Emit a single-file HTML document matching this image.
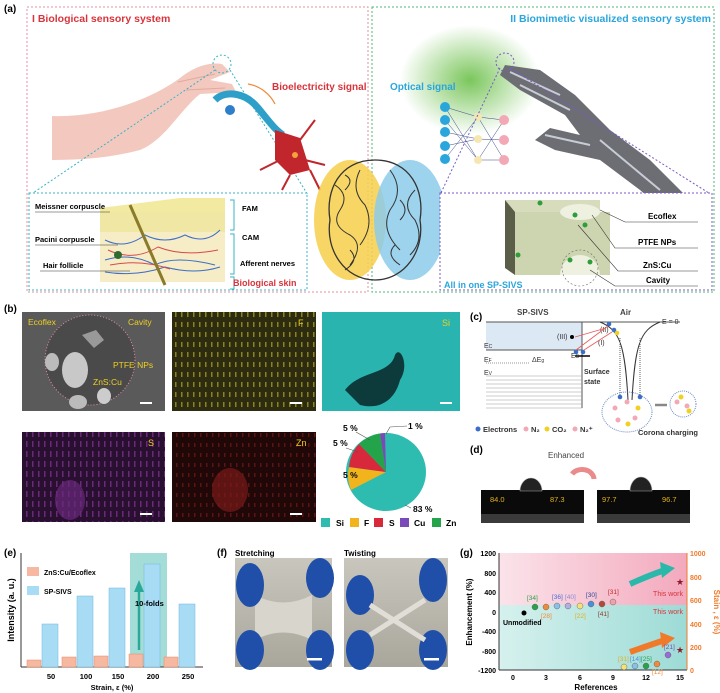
<!DOCTYPE html>
<html><head><meta charset="utf-8"><style>
html,body{margin:0;padding:0;background:#fff;}
svg{display:block;font-family:"Liberation Sans",Arial,sans-serif;}
</style></head><body>
<svg width="720" height="693" viewBox="0 0 720 693" xmlns="http://www.w3.org/2000/svg">
<defs>
<radialGradient id="glow" cx="0.5" cy="0.5" r="0.5"><stop offset="0" stop-color="#6cc04a" stop-opacity="0.9"/><stop offset="1" stop-color="#6cc04a" stop-opacity="0"/></radialGradient>
<linearGradient id="pink" x1="0" x2="1"><stop offset="0" stop-color="#fbe3ea"/><stop offset="1" stop-color="#f3a9bd"/></linearGradient>
<linearGradient id="teal" x1="0" x2="1"><stop offset="0" stop-color="#d6f1ee"/><stop offset="1" stop-color="#9ddbd6"/></linearGradient>
<linearGradient id="photo" x1="0" y1="0" x2="0" y2="1"><stop offset="0" stop-color="#c9c6bd"/><stop offset="1" stop-color="#a9a69c"/></linearGradient>
<pattern id="pf" width="6" height="10" patternUnits="userSpaceOnUse"><rect width="6" height="10" fill="#2d2c10"/><rect x="1" y="2" width="1.5" height="5" fill="#8a8420"/></pattern>
<pattern id="ps" width="6" height="10" patternUnits="userSpaceOnUse"><rect width="6" height="10" fill="#2a1030"/><rect x="2" y="1" width="1.5" height="6" fill="#6a2a7a"/></pattern>
<pattern id="pz" width="6" height="10" patternUnits="userSpaceOnUse"><rect width="6" height="10" fill="#200808"/><rect x="2" y="3" width="1.5" height="4" fill="#5a1414"/></pattern>
</defs>

<!-- (a) -->
<text x="4" y="12" font-size="10" font-weight="bold">(a)</text>
<rect x="27" y="7" width="341" height="285" fill="none" stroke="#e58fa0" stroke-dasharray="2,2"/>
<rect x="372" y="7" width="342" height="285" fill="none" stroke="#4cb87a" stroke-dasharray="2,2"/>
<text x="32" y="22" font-size="10.5" font-weight="bold" fill="#d8343c">I Biological sensory system</text>
<text x="711" y="22" font-size="10.5" font-weight="bold" fill="#2aa6dc" text-anchor="end">II Biomimetic visualized sensory system</text>
<!-- hand -->
<path d="M52,116 C100,118 150,100 180,78 C195,66 210,62 222,64 L230,72 L210,80 L232,84 L236,92 L200,94 C180,110 165,140 140,150 C110,158 80,160 52,160 Z" fill="#f3c9bf"/>
<path d="M178,82 L215,74 M186,90 L225,88" stroke="#e3a99c" stroke-width="1" fill="none"/>
<circle cx="222" cy="64" r="9" fill="none" stroke="#39b3c5" stroke-dasharray="2,2"/>
<line x1="215" y1="70" x2="30" y2="195" stroke="#39b3c5" stroke-dasharray="2,2"/>
<line x1="230" y1="70" x2="308" y2="195" stroke="#39b3c5" stroke-dasharray="2,2"/>
<!-- neuron -->
<path d="M215,100 C225,90 245,92 258,108 C268,120 275,130 283,135" stroke="#2e9fc9" stroke-width="7" fill="none"/>
<circle cx="230" cy="110" r="5" fill="#2e7fc9"/>
<path d="M275,130 L300,138 L310,170 L290,175 L275,160 Z" fill="#c0262c"/>
<path d="M300,140 l15,-20 M305,160 l20,5 M290,175 l-8,15 M280,160 l-20,10 M310,170 l10,20" stroke="#c0262c" stroke-width="2"/>
<circle cx="295" cy="155" r="3" fill="#f4a23a"/>
<path d="M248,84 C260,86 270,94 275,104" stroke="#f08a3a" fill="none" stroke-width="1.2"/>
<text x="272" y="90" font-size="10" font-weight="bold" fill="#d8343c">Bioelectricity signal</text>
<!-- brain -->
<ellipse cx="350" cy="220" rx="36" ry="60" fill="#f6cf4a" opacity="0.85"/>
<ellipse cx="410" cy="220" rx="36" ry="60" fill="#8ccbea" opacity="0.85"/>
<path d="M375,160 C340,160 325,190 330,220 C325,250 345,280 375,280 M375,160 C410,160 425,190 420,220 C425,250 405,280 375,280" stroke="#333" fill="none" stroke-width="1.3"/>
<path d="M335,185 q15,10 5,25 q-10,15 10,25 q15,10 0,30 M360,170 q-10,20 5,35 q10,20 -5,40 M390,170 q15,20 0,40 q-10,20 10,40 M415,190 q-15,15 0,30 q10,20 -5,35 M345,175 q10,5 0,15 M400,200 q10,10 0,20 M350,250 q10,10 -5,20 M395,245 q-10,10 5,20" stroke="#333" fill="none" stroke-width="1"/>
<!-- skin inset -->
<rect x="29" y="193" width="278" height="97" fill="#fff" stroke="#39b3c5" stroke-dasharray="2,2"/>
<polygon points="100,208 180,198 225,198 225,230 100,230" fill="#f2eaa0"/>
<rect x="100" y="212" width="125" height="70" fill="#f6ecc6"/>
<rect x="100" y="212" width="125" height="20" fill="#eee69a" opacity="0.8"/>
<path d="M105,240 q20,10 40,-5 q20,10 40,0 q20,10 35,-5 M105,260 q25,-8 50,5 q20,-10 60,0 M105,272 q30,5 60,-5 q30,8 55,0" stroke="#3b6ec8" fill="none"/>
<path d="M108,250 q25,12 50,-3 q25,10 60,3 M110,265 q30,-6 60,4" stroke="#d84b4b" fill="none"/>
<line x1="130" y1="205" x2="165" y2="285" stroke="#8a7a2a" stroke-width="3"/>
<circle cx="118" cy="255" r="4" fill="#2e6b2e"/>
<text x="35" y="209" font-size="7.5" font-weight="bold">Meissner corpuscle</text>
<text x="35" y="242" font-size="7.5" font-weight="bold">Pacini corpuscle</text>
<text x="43" y="268" font-size="7.5" font-weight="bold">Hair follicle</text>
<line x1="35" y1="212" x2="110" y2="212" stroke="#333" stroke-width="0.6"/>
<line x1="35" y1="245" x2="118" y2="245" stroke="#333" stroke-width="0.6"/>
<line x1="40" y1="271" x2="130" y2="271" stroke="#333" stroke-width="0.6"/>
<path d="M230,200 h4 v30 h-4 M230,234 h4 v40 h-4 M230,277 h4 v12 h-4" stroke="#39b3c5" fill="none"/>
<text x="242" y="211" font-size="7.5" font-weight="bold">FAM</text>
<text x="242" y="240" font-size="7.5" font-weight="bold">CAM</text>
<text x="240" y="266" font-size="7.5" font-weight="bold">Afferent nerves</text>
<text x="233" y="286" font-size="9" font-weight="bold" fill="#d8343c">Biological skin</text>
<!-- right side -->
<ellipse cx="470" cy="80" rx="70" ry="55" fill="url(#glow)"/>
<text x="390" y="90" font-size="10" font-weight="bold" fill="#2aa6dc">Optical signal</text>
<g stroke="#3a4a8a" stroke-width="0.5">
<line x1="445" y1="107" x2="478" y2="117"/><line x1="445" y1="107" x2="478" y2="160"/><line x1="445" y1="159" x2="478" y2="117"/><line x1="445" y1="132" x2="478" y2="139"/><line x1="445" y1="120" x2="478" y2="160"/><line x1="445" y1="146" x2="478" y2="139"/>
<line x1="478" y1="117" x2="504" y2="120"/><line x1="478" y1="160" x2="504" y2="120"/><line x1="478" y1="117" x2="504" y2="160"/><line x1="478" y1="139" x2="504" y2="140"/><line x1="478" y1="160" x2="504" y2="160"/>
</g>
<g fill="#2aa6dc"><circle cx="445" cy="107" r="5"/><circle cx="445" cy="120" r="5"/><circle cx="445" cy="132" r="5"/><circle cx="445" cy="146" r="5"/><circle cx="445" cy="159" r="5"/></g>
<g fill="#f6e6b2"><circle cx="478" cy="117" r="4"/><circle cx="478" cy="139" r="4"/><circle cx="478" cy="160" r="4"/></g>
<g fill="#f3a9b5"><circle cx="504" cy="120" r="5"/><circle cx="504" cy="140" r="5"/><circle cx="504" cy="160" r="5"/></g>
<!-- robot hand -->
<path d="M505,65 L540,70 L575,95 L610,130 L650,160 L690,200 L700,215 L680,225 L640,190 L600,160 L555,150 L535,140 L550,128 L580,135 L565,115 L520,90 L500,75 Z" fill="#6c6e74"/>
<path d="M510,72 L560,95 M520,85 L570,110 M545,135 L590,145 M600,140 L660,190" stroke="#c8ccd4" stroke-width="2"/>
<circle cx="505" cy="62" r="9" fill="none" stroke="#7a5ac8" stroke-dasharray="2,2"/>
<line x1="500" y1="68" x2="440" y2="195" stroke="#7a5ac8" stroke-dasharray="2,2"/>
<line x1="510" y1="68" x2="712" y2="195" stroke="#7a5ac8" stroke-dasharray="2,2"/>
<rect x="440" y="193" width="272" height="97" fill="#fff" stroke="#7a5ac8" stroke-dasharray="2,2"/>
<polygon points="505,200 600,200 600,268 505,268" fill="#d6dcbc"/>
<polygon points="505,200 515,212 515,275 505,268" fill="#5a5e48"/>
<polygon points="515,212 610,212 610,275 515,275" fill="#cdd4b0"/>
<path d="M560,275 a20,20 0 0 1 40,0 Z" fill="#eef0e0"/>
<ellipse cx="580" cy="212" rx="20" ry="8" fill="#eef0e0"/>
<g fill="#2e9e3a"><circle cx="575" cy="215" r="2.5"/><circle cx="585" cy="225" r="2.5"/><circle cx="570" cy="260" r="2.5"/><circle cx="590" cy="262" r="2.5"/><circle cx="518" cy="255" r="2.5"/><circle cx="540" cy="203" r="2.5"/></g>
<circle cx="580" cy="268" r="18" fill="none" stroke="#666" stroke-dasharray="2,2" stroke-width="0.6"/>
<text x="648" y="219" font-size="8" font-weight="bold">Ecoflex</text>
<text x="638" y="245" font-size="8" font-weight="bold">PTFE NPs</text>
<text x="643" y="268" font-size="8" font-weight="bold">ZnS:Cu</text>
<text x="646" y="283" font-size="8" font-weight="bold">Cavity</text>
<g stroke="#333" stroke-width="0.6" fill="none"><path d="M600,210 L625,222 H698"/><path d="M592,215 L615,248 H698"/><path d="M578,225 L618,271 H698"/><path d="M590,270 L615,286 H698"/></g>
<text x="444" y="288" font-size="9" font-weight="bold" fill="#2aa6dc">All in one SP-SIVS</text>

<!-- (b) -->
<text x="4" y="312" font-size="10" font-weight="bold">(b)</text>
<rect x="22" y="312" width="143" height="99" fill="#5a5a5a"/>
<circle cx="90" cy="360" r="45" fill="#4a4a4a" stroke="#e58fa0" stroke-dasharray="1,2"/>
<ellipse cx="75" cy="370" rx="13" ry="18" fill="#c8c8c8"/><ellipse cx="52" cy="362" rx="7" ry="9" fill="#bbb"/><ellipse cx="78" cy="402" rx="9" ry="7" fill="#bbb"/><ellipse cx="104" cy="396" rx="7" ry="8" fill="#ccc"/><path d="M82,335 l14,-5 l8,10 l-10,8 Z" fill="#999"/>
<text x="28" y="325" font-size="8.5" fill="#f0d020">Ecoflex</text>
<text x="128" y="325" font-size="8.5" fill="#f0d020">Cavity</text>
<text x="113" y="368" font-size="8.5" fill="#f0d020">PTFE NPs</text>
<text x="93" y="385" font-size="8.5" fill="#f0d020">ZnS:Cu</text>
<rect x="140" y="402" width="12" height="2" fill="#fff"/>
<rect x="172" y="312" width="144" height="99" fill="url(#pf)"/>
<text x="298" y="326" font-size="9" fill="#f0d020">F</text><rect x="290" y="402" width="12" height="2" fill="#fff"/>
<rect x="322" y="312" width="138" height="99" fill="#2ab4b0"/>
<path d="M345,390 C360,370 390,375 395,355 C400,345 410,365 400,380 C395,400 380,410 360,405 Z" fill="#0d3a3a"/>
<text x="442" y="326" font-size="9" fill="#f0d020">Si</text><rect x="440" y="402" width="12" height="2" fill="#fff"/>
<rect x="22" y="432" width="143" height="90" fill="url(#ps)"/>
<ellipse cx="70" cy="500" rx="15" ry="20" fill="#6a2a7a" opacity="0.7"/>
<text x="148" y="446" font-size="9" fill="#f0d020">S</text><rect x="140" y="513" width="12" height="2" fill="#fff"/>
<rect x="172" y="432" width="144" height="90" fill="url(#pz)"/>
<ellipse cx="230" cy="490" rx="18" ry="22" fill="#7a1a1a" opacity="0.7"/>
<text x="296" y="446" font-size="9" fill="#f0d020">Zn</text><rect x="290" y="513" width="12" height="2" fill="#fff"/>
<!-- pie -->
<g transform="translate(386,472)">
<ellipse rx="40" ry="39" fill="#2fbcb0"/>
<path d="M0,0 L-35,18 A40,39 0 0 1 -37,-5 Z" fill="#f2b41c"/>
<path d="M0,0 L-37,-5 A40,39 0 0 1 -27,-28 Z" fill="#d8283c"/>
<path d="M0,0 L-27,-28 A40,39 0 0 1 -6,-38.5 Z" fill="#24a44a"/>
<path d="M0,0 L-6,-38.5 A40,39 0 0 1 -1,-39 Z" fill="#7a4ab8"/>
</g>
<g font-size="8.5" font-weight="bold"><text x="343" y="431">5 %</text><text x="333" y="446">5 %</text><text x="343" y="478">5 %</text><text x="408" y="429">1 %</text><text x="413" y="512">83 %</text></g>
<g stroke="#555" stroke-width="0.6" fill="none"><path d="M356,432 L370,440"/><path d="M346,448 L358,452"/><path d="M356,478 L352,472"/><path d="M407,426 L390,427 L386,434"/><path d="M411,508 L405,505"/></g>
<g font-size="8.5" font-weight="bold">
<rect x="321" y="518" width="9" height="9" fill="#2fbcb0"/><text x="336" y="526">Si</text>
<rect x="350" y="518" width="9" height="9" fill="#f2b41c"/><text x="364" y="526">F</text>
<rect x="374" y="518" width="9" height="9" fill="#d8283c"/><text x="389" y="526">S</text>
<rect x="400" y="518" width="9" height="9" fill="#7a4ab8"/><text x="414" y="526">Cu</text>
<rect x="432" y="518" width="9" height="9" fill="#24a44a"/><text x="446" y="526">Zn</text>
</g>

<!-- (c) -->
<text x="470" y="320" font-size="10" font-weight="bold">(c)</text>
<text x="517" y="315" font-size="8" font-weight="bold" fill="#444">SP-SIVS</text>
<text x="620" y="315" font-size="8" font-weight="bold" fill="#444">Air</text>
<rect x="486" y="322" width="96" height="28" fill="#dce8f4"/>
<line x1="486" y1="322" x2="680" y2="322" stroke="#555"/>
<line x1="582" y1="322" x2="582" y2="408" stroke="#555"/>
<line x1="486" y1="350" x2="582" y2="350" stroke="#555"/>
<g stroke="#999" stroke-width="0.6"><line x1="486" y1="376" x2="582" y2="376"/><line x1="486" y1="380" x2="582" y2="380"/><line x1="486" y1="384" x2="582" y2="384"/><line x1="486" y1="388" x2="582" y2="388"/><line x1="486" y1="392" x2="582" y2="392"/><line x1="486" y1="396" x2="582" y2="396"/><line x1="486" y1="400" x2="582" y2="400"/><line x1="486" y1="404" x2="582" y2="404"/><line x1="486" y1="408" x2="582" y2="408"/></g>
<line x1="486" y1="363" x2="530" y2="363" stroke="#999" stroke-dasharray="1,1"/>
<g font-size="7" fill="#333"><text x="484" y="348">E<tspan font-size="5">C</tspan></text><text x="484" y="362">E<tspan font-size="5">F</tspan></text><text x="484" y="375">E<tspan font-size="5">V</tspan></text><text x="532" y="362">ΔE<tspan font-size="5">g</tspan></text><text x="571" y="358">E<tspan font-size="5">S</tspan></text><text x="662" y="324">E = 0</text><text x="557" y="339">(III)</text><text x="600" y="332">(II)</text><text x="598" y="345">(I)</text><text x="584" y="374" font-weight="bold">Surface</text><text x="584" y="384" font-weight="bold">state</text></g>
<path d="M600,322 C620,330 625,345 628,400 M660,322 C640,330 635,345 632,400" stroke="#333" fill="none"/>
<line x1="575" y1="356" x2="590" y2="356" stroke="#000" stroke-width="1.5"/>
<circle cx="572" cy="337" r="2" fill="#000"/>
<g fill="#3a6ec8"><circle cx="576" cy="352" r="2.3"/><circle cx="583" cy="352" r="2.3"/><circle cx="609" cy="324" r="2.3"/><circle cx="614" cy="330" r="2.3"/></g>
<circle cx="617" cy="333" r="2.3" fill="#f0d020"/>
<path d="M576,350 L608,326 M584,350 L612,332 M575,337 L606,328" stroke="#e85a5a" stroke-width="0.8"/>
<line x1="620" y1="338" x2="620" y2="395" stroke="#666" stroke-dasharray="1,1"/>
<line x1="640" y1="338" x2="640" y2="395" stroke="#666" stroke-dasharray="1,1"/>
<ellipse cx="627" cy="412" rx="25" ry="20" fill="none" stroke="#6a8ac8" stroke-dasharray="1,1"/>
<circle cx="683" cy="404" r="13" fill="none" stroke="#6a8ac8" stroke-dasharray="1,1"/>
<g fill="#f3a9b5"><circle cx="615" cy="408" r="2.5"/><circle cx="627" cy="402" r="2.5"/><circle cx="618" cy="420" r="2.5"/><circle cx="635" cy="418" r="2.5"/><circle cx="677" cy="402" r="2.5"/><circle cx="687" cy="406" r="2.5"/></g>
<g fill="#f0d020"><circle cx="638" cy="408" r="2.5"/><circle cx="628" cy="424" r="2.5"/><circle cx="681" cy="397" r="2.5"/><circle cx="689" cy="411" r="2.5"/></g>
<g fill="#3a6ec8"><circle cx="620" cy="397" r="2.3"/><circle cx="640" cy="397" r="2.3"/></g>
<path d="M667,405 H655" stroke="#888" stroke-width="2.5"/>
<g font-size="7.5" font-weight="bold" fill="#333">
<circle cx="478" cy="429" r="2.5" fill="#3a6ec8"/><text x="483" y="432">Electrons</text>
<circle cx="526" cy="429" r="2.5" fill="#f3a9b5"/><text x="531" y="432">N₂</text>
<circle cx="547" cy="429" r="2.5" fill="#f0d020"/><text x="552" y="432">CO₂</text>
<circle cx="575" cy="429" r="2.5" fill="#f3a9b5"/><text x="580" y="432">N₂⁺</text>
<text x="638" y="435">Corona charging</text>
</g>
<!-- (d) -->
<text x="470" y="453" font-size="10" font-weight="bold">(d)</text>
<text x="566" y="458" font-size="8" fill="#444" text-anchor="middle">Enhanced</text>
<path d="M572,474 a12,10 0 0 1 22,5" stroke="#ea8a8a" stroke-width="5" fill="none"/>
<rect x="481" y="490" width="103" height="33" fill="#0a0a0a"/><rect x="481" y="514" width="103" height="9" fill="#3a3a3a"/>
<path d="M520,491 a11,13 0 0 1 22,0 Z" fill="#222" stroke="#aaa" stroke-width="0.6"/>
<text x="490" y="502" font-size="7.5" fill="#e0b020">84.0</text><text x="550" y="502" font-size="7.5" fill="#e0b020">87.3</text>
<rect x="597" y="490" width="93" height="33" fill="#0a0a0a"/><rect x="597" y="514" width="93" height="9" fill="#3a3a3a"/>
<path d="M630,491 a11,14 0 0 1 22,0 Z" fill="#222" stroke="#aaa" stroke-width="0.6"/>
<text x="602" y="502" font-size="7.5" fill="#e0b020">97.7</text><text x="662" y="502" font-size="7.5" fill="#e0b020">96.7</text>

<!-- (e) -->
<text x="4" y="556" font-size="10" font-weight="bold">(e)</text>
<rect x="130" y="553" width="37" height="114" fill="#a4ddd8"/>
<g stroke="#333" fill="none"><line x1="21" y1="553" x2="21" y2="667"/><line x1="21" y1="667" x2="203" y2="667"/></g>
<text x="14" y="610" font-size="9" font-weight="bold" transform="rotate(-90 14 610)" text-anchor="middle">Intensity   (a. u.)</text>
<g fill="#a8dcf4" stroke="#6cb8e0" stroke-width="0.5">
<rect x="42" y="624" width="16" height="43"/><rect x="77" y="596" width="16" height="71"/><rect x="109" y="588" width="16" height="79"/><rect x="144" y="564" width="16" height="103"/><rect x="179" y="604" width="16" height="63"/></g>
<g fill="#f6b8a0" stroke="#e88a68" stroke-width="0.5">
<rect x="27" y="660" width="14" height="7"/><rect x="62" y="657" width="14" height="10"/><rect x="94" y="656" width="14" height="11"/><rect x="129" y="654" width="14" height="13"/><rect x="164" y="657" width="14" height="10"/></g>
<path d="M139,650 L139,590" stroke="#2aa89a" stroke-width="2.5"/><polygon points="134,592 139,580 144,592" fill="#2aa89a"/>
<text x="135" y="606" font-size="7.5" font-weight="bold">10-folds</text>
<rect x="27" y="567" width="12" height="9" fill="#f6b8a0"/><text x="44" y="575" font-size="7" font-weight="bold">ZnS:Cu/Ecoflex</text>
<rect x="27" y="586" width="12" height="9" fill="#a8dcf4"/><text x="44" y="594" font-size="7" font-weight="bold">SP-SIVS</text>
<g font-size="7.5" font-weight="bold" text-anchor="middle"><text x="51" y="679">50</text><text x="86" y="679">100</text><text x="118" y="679">150</text><text x="153" y="679">200</text><text x="188" y="679">250</text><text x="112" y="690">Strain, ε (%)</text></g>

<!-- (f) -->
<text x="217" y="556" font-size="10" font-weight="bold">(f)</text>
<text x="235" y="556" font-size="8" font-weight="bold">Stretching</text>
<text x="344" y="556" font-size="8" font-weight="bold">Twisting</text>
<rect x="235" y="558" width="97" height="109" fill="url(#photo)"/>
<rect x="344" y="558" width="104" height="109" fill="url(#photo)"/>
<path d="M255,595 Q283,610 312,595 L312,640 Q283,625 255,640 Z" fill="#d8d6cc"/>
<g fill="#1f4fa8"><ellipse cx="250" cy="585" rx="14" ry="22"/><ellipse cx="320" cy="578" rx="14" ry="20"/><ellipse cx="250" cy="650" rx="14" ry="20"/><ellipse cx="320" cy="650" rx="14" ry="20"/>
<ellipse cx="360" cy="595" rx="14" ry="20"/><ellipse cx="433" cy="580" rx="14" ry="22"/><ellipse cx="360" cy="650" rx="14" ry="20"/><ellipse cx="433" cy="650" rx="14" ry="20"/></g>
<path d="M370,605 L425,640 M370,635 L425,600" stroke="#e0ded6" stroke-width="5"/>
<rect x="307" y="658" width="15" height="2.5" fill="#fff"/><rect x="424" y="658" width="15" height="2.5" fill="#fff"/>

<!-- (g) -->
<text x="460" y="556" font-size="10" font-weight="bold">(g)</text>
<rect x="499" y="553" width="188" height="52" fill="url(#pink)"/>
<rect x="499" y="605" width="188" height="65" fill="url(#teal)"/>
<g stroke="#333" fill="none"><line x1="499" y1="553" x2="499" y2="670"/><line x1="499" y1="670" x2="687" y2="670"/></g>
<line x1="687" y1="553" x2="687" y2="670" stroke="#f07a2a"/>
<g font-size="7" font-weight="bold" text-anchor="end"><text x="496" y="556">1200</text><text x="496" y="576">800</text><text x="496" y="595">400</text><text x="496" y="615">0</text><text x="496" y="634">-400</text><text x="496" y="654">-800</text><text x="496" y="673">-1200</text></g>
<g font-size="7" font-weight="bold" fill="#f07a2a"><text x="690" y="556">1000</text><text x="690" y="580">800</text><text x="690" y="603">600</text><text x="690" y="627">400</text><text x="690" y="650">200</text><text x="690" y="673">0</text></g>
<g font-size="7" font-weight="bold" text-anchor="middle"><text x="513" y="680">0</text><text x="546" y="680">3</text><text x="580" y="680">6</text><text x="613" y="680">9</text><text x="646" y="680">12</text><text x="680" y="680">15</text><text x="596" y="690" font-size="8">References</text></g>
<text x="472" y="612" font-size="8" font-weight="bold" transform="rotate(-90 472 612)" text-anchor="middle">Enhancement (%)</text>
<text x="714" y="612" font-size="8" font-weight="bold" fill="#f07a2a" transform="rotate(90 714 612)" text-anchor="middle">Stain , ε (%)</text>
<path d="M630,584 Q650,575 665,570" stroke="#2ab8aa" stroke-width="6" fill="none"/><polygon points="660,562 675,568 662,578" fill="#2ab8aa"/>
<path d="M630,652 Q650,645 665,640" stroke="#f07a2a" stroke-width="6" fill="none"/><polygon points="660,632 675,638 662,648" fill="#f07a2a"/>
<text x="683" y="596" font-size="7" fill="#d8343c" text-anchor="end">This work</text>
<text x="683" y="614" font-size="7" fill="#d8343c" text-anchor="end">This work</text>
<text x="680" y="585" font-size="9" fill="#8a1a2a" text-anchor="middle">★</text>
<text x="680" y="653" font-size="9" fill="#8a1a2a" text-anchor="middle">★</text>
<circle cx="524" cy="613" r="2.5" fill="#000"/>
<text x="503" y="625" font-size="7" font-weight="bold">Unmodified</text>
<g stroke="#555" stroke-width="0.4">
<circle cx="535" cy="607" r="3" fill="#2aa04a"/><circle cx="546" cy="607" r="3" fill="#f08a3a"/><circle cx="557" cy="606" r="3" fill="#8ac0e8"/><circle cx="568" cy="606" r="3" fill="#b0b0e0"/><circle cx="580" cy="606" r="3" fill="#f6e07a"/><circle cx="591" cy="604" r="3" fill="#4a90d8"/><circle cx="602" cy="604" r="3" fill="#b04a3a"/><circle cx="613" cy="602" r="3" fill="#f0a0a8"/>
<circle cx="624" cy="667" r="3" fill="#f6e07a"/><circle cx="635" cy="666" r="3" fill="#8ac0e8"/><circle cx="646" cy="666" r="3" fill="#2aa04a"/><circle cx="657" cy="664" r="3" fill="#f08a3a"/><circle cx="668" cy="655" r="3" fill="#9a6ad8"/></g>
<g font-size="6.5"><text x="527" y="600" fill="#2aa04a">[34]</text><text x="541" y="618" fill="#f08a3a">[28]</text><text x="552" y="599" fill="#4a6ad8">[36]</text><text x="565" y="599" fill="#8a8ad8">[40]</text><text x="575" y="618" fill="#e0b020">[22]</text><text x="586" y="597" fill="#2a4a98">[30]</text><text x="598" y="616" fill="#8a3a2a">[41]</text><text x="608" y="594" fill="#c0282c">[31]</text>
<text x="618" y="661" fill="#e0b020">[31]</text><text x="630" y="661" fill="#4a90d8">[14]</text><text x="641" y="661" fill="#2aa04a">[25]</text><text x="652" y="674" fill="#f08a3a">[12]</text><text x="664" y="649" fill="#7a4ab8">[21]</text></g>
</svg>
</body></html>
